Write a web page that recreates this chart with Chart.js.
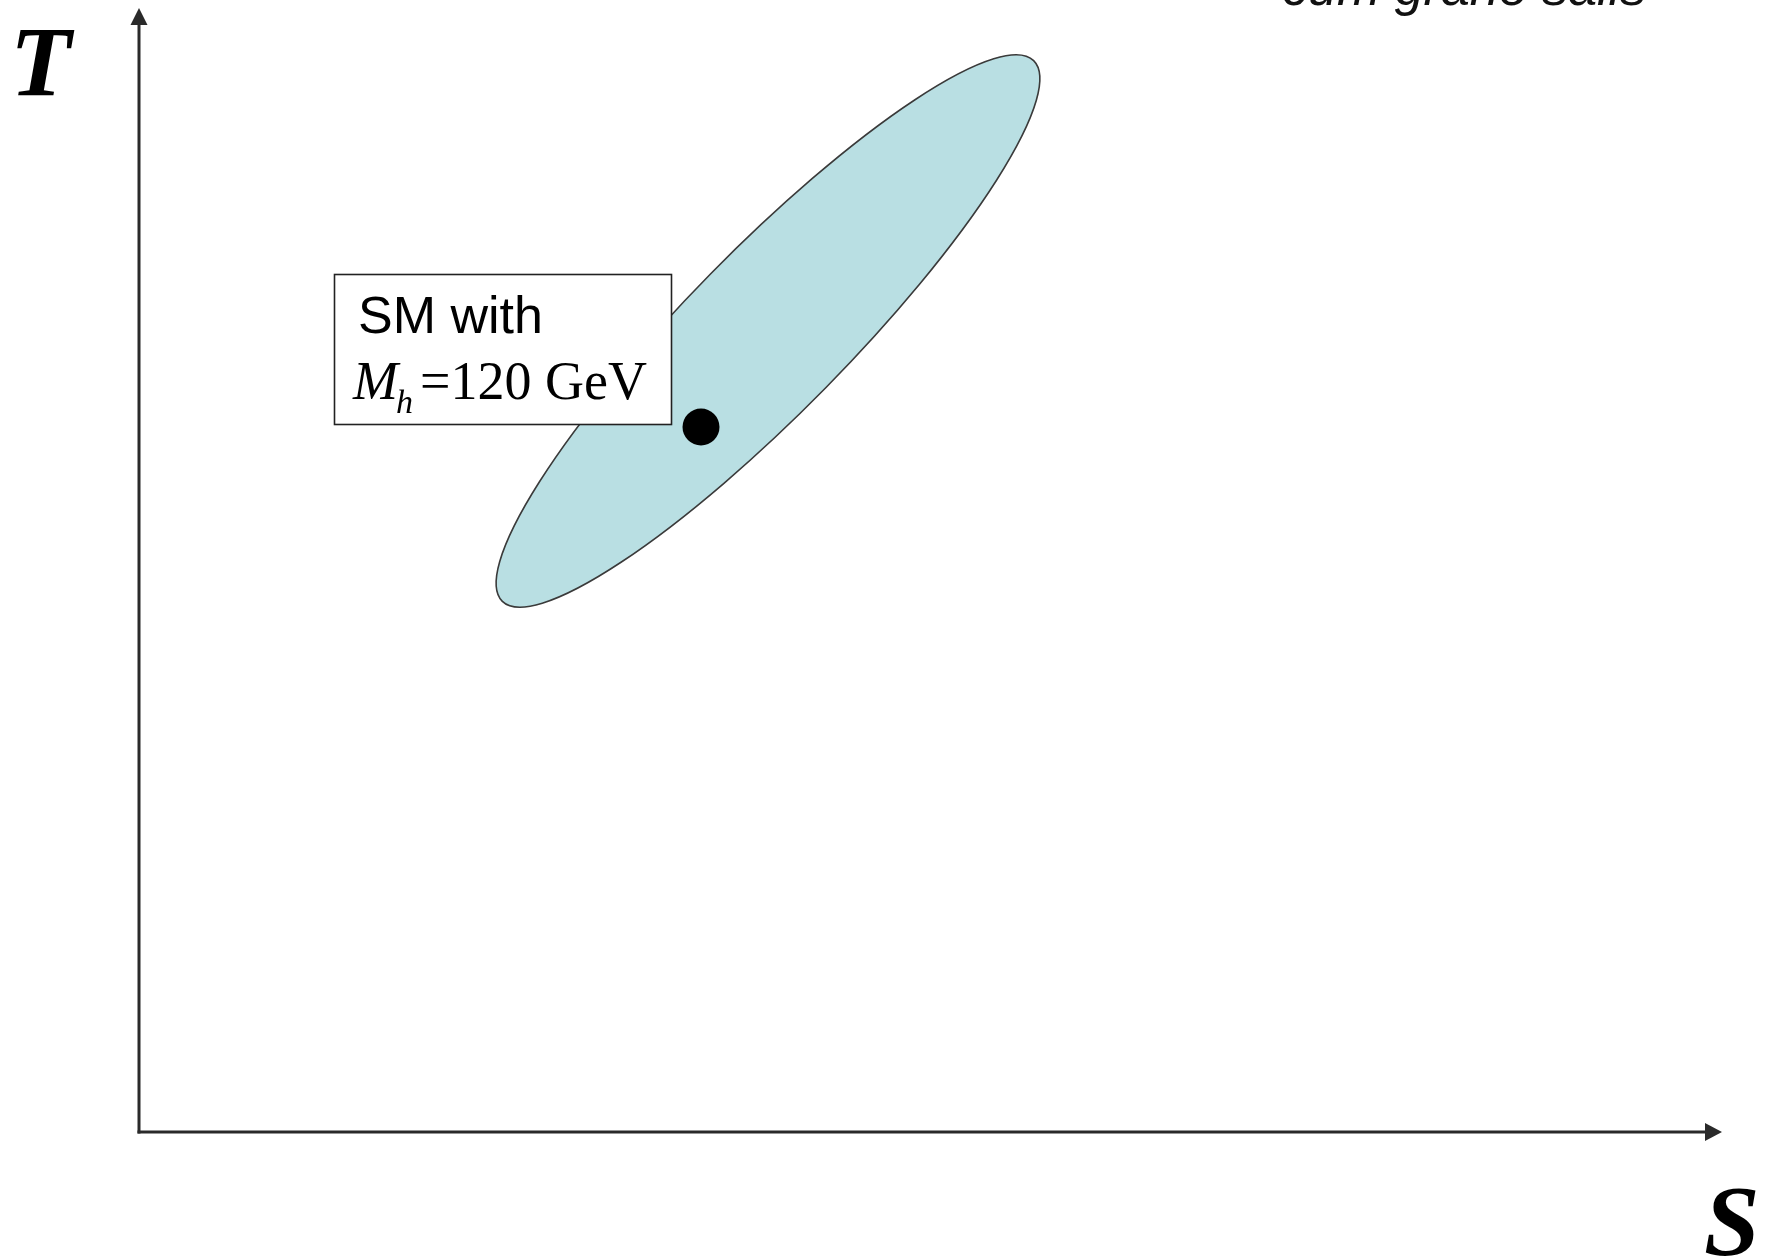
<!DOCTYPE html>
<html>
<head>
<meta charset="utf-8">
<script src="https://cdn.jsdelivr.net/npm/chart.js@4.4.1/dist/chart.umd.min.js"></script>
<style>
  html, body { margin: 0; padding: 0; background: #ffffff; }
  #wrap { width: 1775px; height: 1259px; }
  canvas { display: block; }
</style>
</head>
<body>
<div id="wrap"><canvas id="c" width="1775" height="1259"></canvas></div>
<script>
// ---- data (arbitrary S/T units, no ticks shown) ----
const axisTitles = ['S', 'T'];
const smPointS = [5.62];
const smPointT = [7.05];
const ellipseCenterST = [6.29, 8.01];
const ellipseSemiAxes = [3.79, 0.81];
const ellipseTiltDeg = [45.5];
const boxTextLine1 = ['SM with'];
const boxTextLine2 = ['M', 'h', '=120 GeV'];
const cornerNote = ['cum grano salis'];
const axisRangeS = [0, 15.83];
const axisRangeT = [0, 11.24];

// ---- layout (positions of the annotation box, in S/T units) ----
const boxRect = { s0: 1.95, s1: 5.32, t0: 8.58, t1: 7.08 };

const ellipseFill = '#b9dfe3';
const ellipseStroke = '#3a3a3a';
const axisColor = '#2a2a2a';

const diagramPlugin = {
  id: 'diagram',
  beforeDatasetsDraw(chart) {
    const ctx = chart.ctx;
    const xs = chart.scales.x, ys = chart.scales.y;
    // ellipse
    const cx = xs.getPixelForValue(ellipseCenterST[0]);
    const cy = ys.getPixelForValue(ellipseCenterST[1]);
    const rx = xs.getPixelForValue(ellipseCenterST[0] + ellipseSemiAxes[0]) - cx;
    const ry = xs.getPixelForValue(ellipseCenterST[0] + ellipseSemiAxes[1]) - cx;
    ctx.save();
    ctx.beginPath();
    ctx.ellipse(cx, cy, rx, ry, -ellipseTiltDeg[0] * Math.PI / 180, 0, Math.PI * 2);
    ctx.fillStyle = ellipseFill;
    ctx.fill();
    ctx.lineWidth = 1.6;
    ctx.strokeStyle = ellipseStroke;
    ctx.stroke();
    ctx.restore();

    // annotation box
    const bx0 = xs.getPixelForValue(boxRect.s0), bx1 = xs.getPixelForValue(boxRect.s1);
    const by0 = ys.getPixelForValue(boxRect.t0), by1 = ys.getPixelForValue(boxRect.t1);
    ctx.save();
    ctx.fillStyle = '#ffffff';
    ctx.fillRect(bx0, by0, bx1 - bx0, by1 - by0);
    ctx.lineWidth = 1.6;
    ctx.strokeStyle = '#222222';
    ctx.strokeRect(bx0 + 0.5, by0 + 0.5, bx1 - bx0, by1 - by0);
    ctx.fillStyle = '#000000';
    ctx.textBaseline = 'alphabetic';
    ctx.textAlign = 'left';
    ctx.font = '52px "Liberation Sans", Arial, sans-serif';
    ctx.fillText(boxTextLine1[0], bx0 + 24, by0 + 59);
    let tx = bx0 + 19;
    const base2 = by0 + 125;
    ctx.font = 'italic 54px "Liberation Serif", "Times New Roman", serif';
    ctx.fillText(boxTextLine2[0], tx, base2);
    tx += ctx.measureText(boxTextLine2[0]).width;
    ctx.font = 'italic 34px "Liberation Serif", "Times New Roman", serif';
    ctx.fillText(boxTextLine2[1], tx - 2, base2 + 14);
    tx += ctx.measureText(boxTextLine2[1]).width + 5;
    ctx.font = '54px "Liberation Serif", "Times New Roman", serif';
    ctx.fillText(boxTextLine2[2], tx, base2);
    ctx.restore();
  },
  afterDraw(chart) {
    const ctx = chart.ctx;
    const a = chart.chartArea;
    ctx.save();
    ctx.strokeStyle = axisColor;
    ctx.fillStyle = axisColor;
    ctx.lineWidth = 3;
    // vertical axis (T)
    ctx.beginPath();
    ctx.moveTo(a.left, a.bottom + 1.5);
    ctx.lineTo(a.left, a.top + 14);
    ctx.stroke();
    ctx.beginPath();
    ctx.moveTo(a.left, a.top);
    ctx.lineTo(a.left - 8.5, a.top + 17);
    ctx.lineTo(a.left + 8.5, a.top + 17);
    ctx.closePath();
    ctx.fill();
    // horizontal axis (S)
    ctx.beginPath();
    ctx.moveTo(a.left - 1.5, a.bottom);
    ctx.lineTo(a.right - 14, a.bottom);
    ctx.stroke();
    ctx.beginPath();
    ctx.moveTo(a.right, a.bottom);
    ctx.lineTo(a.right - 17, a.bottom - 9);
    ctx.lineTo(a.right - 17, a.bottom + 9);
    ctx.closePath();
    ctx.fill();

    // axis titles
    ctx.fillStyle = '#000000';
    ctx.textBaseline = 'alphabetic';
    ctx.textAlign = 'left';
    ctx.font = 'bold italic 100px "Liberation Serif", "Times New Roman", serif';
    ctx.fillText(axisTitles[1], 10, 95);
    ctx.fillText(axisTitles[0], 1704, 1254);

    // corner note (cut off at top)
    ctx.font = 'italic 52px "Liberation Sans", Arial, sans-serif';
    ctx.fillStyle = '#111111';
    ctx.fillText(cornerNote[0], 1282, 5);
    ctx.restore();
  }
};

new Chart(document.getElementById('c'), {
  type: 'scatter',
  data: {
    datasets: [{
      label: 'SM',
      data: smPointS.map((s, i) => ({ x: s, y: smPointT[i] })),
      pointRadius: 18.5,
      pointHoverRadius: 18.5,
      pointBackgroundColor: '#000000',
      pointBorderWidth: 0,
      showLine: false,
      clip: false
    }]
  },
  options: {
    responsive: false,
    animation: false,
    devicePixelRatio: 1,
    layout: { autoPadding: false, padding: { left: 139, right: 53, top: 8, bottom: 127 } },
    plugins: { legend: { display: false }, tooltip: { enabled: false } },
    scales: {
      x: { type: 'linear', display: false, min: axisRangeS[0], max: axisRangeS[1] },
      y: { type: 'linear', display: false, min: axisRangeT[0], max: axisRangeT[1] }
    }
  },
  plugins: [diagramPlugin]
});
</script>
</body>
</html>
